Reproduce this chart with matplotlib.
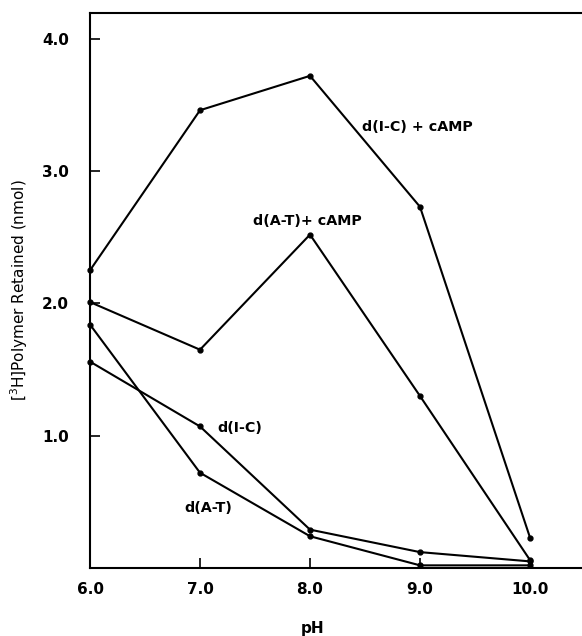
import matplotlib
matplotlib.use("Agg")
import matplotlib.pyplot as plt

ph = [6.0, 7.0, 8.0, 9.0, 10.0]
ic_camp = [2.25, 3.46, 3.72, 2.73, 0.23]
at_camp = [2.01, 1.65, 2.52, 1.30, 0.06]
ic = [1.56, 1.07, 0.29, 0.12, 0.05]
at = [1.84, 0.72, 0.24, 0.02, 0.02]

x_ticks = [6.0, 7.0, 8.0, 9.0, 10.0]
x_labels = ["6.0", "7.0", "8.0", "9.0", "10.0"]
y_ticks = [1.0, 2.0, 3.0, 4.0]
y_labels = ["1.0", "2.0", "3.0", "4.0"]

plt.rcParams['font.family'] = ['DejaVu Sans']

fig = plt.figure(figsize=(5.82, 6.36), dpi=100)
W, H = 582, 636
ax = fig.add_axes([90 / W, 1 - 568 / H, (582 - 90) / W, (568 - 13) / H])

for ys in (ic_camp, at_camp, ic, at):
    ax.plot(ph, ys, color='black', lw=1.5, marker='o', ms=3.5, clip_on=False)

ax.set_xlim(6.0, 6.0 + 492 / 110)
ax.set_ylim(0, 4.195)
ax.spines['right'].set_visible(False)
for s in ('left', 'bottom', 'top'):
    ax.spines[s].set_linewidth(1.5)

ax.set_xticks(x_ticks)
ax.set_xticklabels(x_labels, fontweight='bold', fontsize=11)
ax.set_yticks(y_ticks)
ax.set_yticklabels(y_labels, fontweight='bold', fontsize=11)
ax.tick_params(direction='in', length=7, width=1.2)
ax.tick_params(axis='x', pad=10)
ax.tick_params(axis='y', pad=15)

ax.set_ylabel('[$^3$H]Polymer Retained (nmol)', fontsize=11, labelpad=9)
fig.text(313 / W, 1 - 628 / H, 'pH', fontweight='bold', fontsize=11, ha='center', va='center')

tkw = dict(fontweight='bold', fontsize=10.3, ha='left', va='center')
ax.text(8.47, (568 - 127) / 132.3, 'd(I-C) + cAMP', **tkw)
ax.text(7.48, (568 - 221) / 132.3, 'd(A-T)+ cAMP', **tkw)
ax.text(7.16, (568 - 428) / 132.3, 'd(I-C)', **tkw)
ax.text(6.86, (568 - 508) / 132.3, 'd(A-T)', **tkw)

fig.savefig('out.png', dpi=100)
